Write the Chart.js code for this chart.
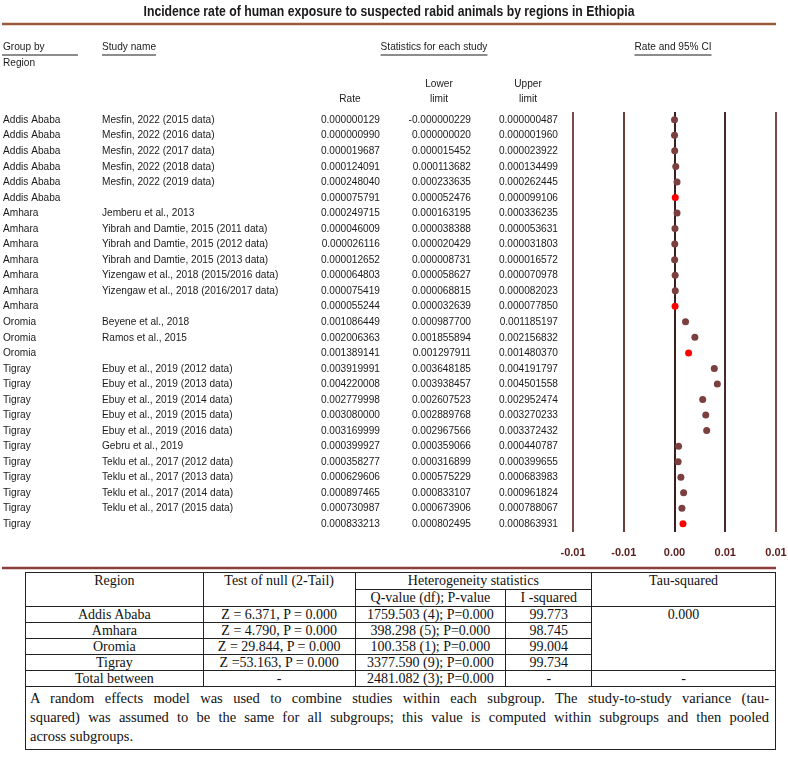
<!DOCTYPE html>
<html>
<head>
<meta charset="utf-8">
<script src="https://cdn.jsdelivr.net/npm/chart.js@4.4.1/dist/chart.umd.min.js"></script>
<style>
  body { margin: 0; background: #fff; width: 788px; height: 759px; position: relative; overflow: hidden; }
  #wrap { position: absolute; left: 0; top: 0; width: 788px; height: 570px; }
  table { position: absolute; left: 25px; top: 572px; width: 751px; border-collapse: collapse;
          font-family: "Liberation Serif", "Times New Roman", serif; font-size: 14px; color: #111; }
  td { border: 1px solid #222; text-align: center; padding: 0; height: 15px; line-height: 15px; vertical-align: top; }
  td.h { height: 16px; line-height: 16px; }
  td.note { text-align: justify; padding: 2px 6px 3px 4px; font-size: 14.5px; line-height: 19px; height: auto; }
  .jl { text-align: justify; text-align-last: justify; }
</style>
</head>
<body>
<div id="wrap"><canvas id="forest"></canvas></div>
<table>
  <colgroup><col style="width:178px"><col style="width:152px"><col style="width:151px"><col style="width:86px"><col style="width:184px"></colgroup>
  <tr><td class="h" rowspan="2">Region</td><td class="h" rowspan="2">Test of null (2-Tail)</td><td class="h" colspan="2">Heterogeneity statistics</td><td class="h" rowspan="2">Tau-squared</td></tr>
  <tr><td class="h">Q-value (df); P-value</td><td class="h">I -squared</td></tr>
  <tr><td>Addis Ababa</td><td>Z = 6.371, P = 0.000</td><td>1759.503 (4); P=0.000</td><td>99.773</td><td rowspan="4">0.000</td></tr>
  <tr><td>Amhara</td><td>Z = 4.790, P = 0.000</td><td>398.298 (5); P=0.000</td><td>98.745</td></tr>
  <tr><td>Oromia</td><td>Z = 29.844, P = 0.000</td><td>100.358 (1); P=0.000</td><td>99.004</td></tr>
  <tr><td>Tigray</td><td>Z =53.163, P = 0.000</td><td>3377.590 (9); P=0.000</td><td>99.734</td></tr>
  <tr><td>Total between</td><td>-</td><td>2481.082 (3); P=0.000</td><td>-</td><td>-</td></tr>
  <tr><td class="note" colspan="5">
    <div class="jl">A random effects model was used to combine studies within each subgroup. The study-to-study variance (tau-</div>
    <div class="jl">squared) was assumed to be the same for all subgroups; this value is computed within subgroups and then pooled</div>
    <div>across subgroups.</div>
  </td></tr>
</table>
<script>
  const groups = [
    "Addis Ababa", "Addis Ababa", "Addis Ababa", "Addis Ababa", "Addis Ababa", "Addis Ababa",
    "Amhara", "Amhara", "Amhara", "Amhara", "Amhara", "Amhara", "Amhara",
    "Oromia", "Oromia", "Oromia",
    "Tigray", "Tigray", "Tigray", "Tigray", "Tigray", "Tigray", "Tigray", "Tigray", "Tigray", "Tigray", "Tigray"
  ];
  // empty study name = subgroup summary row (red dot)
  const studies = [
    "Mesfin, 2022 (2015 data)", "Mesfin, 2022 (2016 data)", "Mesfin, 2022 (2017 data)",
    "Mesfin, 2022 (2018 data)", "Mesfin, 2022 (2019 data)", "",
    "Jemberu et al., 2013", "Yibrah and Damtie, 2015 (2011 data)", "Yibrah and Damtie, 2015 (2012 data)",
    "Yibrah and Damtie, 2015 (2013 data)", "Yizengaw et al., 2018 (2015/2016 data)", "Yizengaw et al., 2018 (2016/2017 data)", "",
    "Beyene et al., 2018", "Ramos et al., 2015", "",
    "Ebuy et al., 2019 (2012 data)", "Ebuy et al., 2019 (2013 data)", "Ebuy et al., 2019 (2014 data)",
    "Ebuy et al., 2019 (2015 data)", "Ebuy et al., 2019 (2016 data)", "Gebru et al., 2019",
    "Teklu et al., 2017 (2012 data)", "Teklu et al., 2017 (2013 data)", "Teklu et al., 2017 (2014 data)",
    "Teklu et al., 2017 (2015 data)", ""
  ];
  const rates = [
    0.000000129, 0.000000990, 0.000019687, 0.000124091, 0.000248040, 0.000075791,
    0.000249715, 0.000046009, 0.000026116, 0.000012652, 0.000064803, 0.000075419, 0.000055244,
    0.001086449, 0.002006363, 0.001389141,
    0.003919991, 0.004220008, 0.002779998, 0.003080000, 0.003169999, 0.000399927,
    0.000358277, 0.000629606, 0.000897465, 0.000730987, 0.000833213
  ];
  const lowers = [
    -0.000000229, 0.000000020, 0.000015452, 0.000113682, 0.000233635, 0.000052476,
    0.000163195, 0.000038388, 0.000020429, 0.000008731, 0.000058627, 0.000068815, 0.000032639,
    0.000987700, 0.001855894, 0.001297911,
    0.003648185, 0.003938457, 0.002607523, 0.002889768, 0.002967566, 0.000359066,
    0.000316899, 0.000575229, 0.000833107, 0.000673906, 0.000802495
  ];
  const uppers = [
    0.000000487, 0.000001960, 0.000023922, 0.000134499, 0.000262445, 0.000099106,
    0.000336235, 0.000053631, 0.000031803, 0.000016572, 0.000070978, 0.000082023, 0.000077850,
    0.001185197, 0.002156832, 0.001480370,
    0.004191797, 0.004501558, 0.002952474, 0.003270233, 0.003372432, 0.000440787,
    0.000399655, 0.000683983, 0.000961824, 0.000788067, 0.000863931
  ];
  const tickValues = [-0.01, -0.005, 0, 0.005, 0.01];
  const tickLabels = ["-0.01", "-0.01", "0.00", "0.01", "0.01"];

  const FONT = '"Liberation Sans", Arial, sans-serif';
  const SQUEEZE = 0.88; // the original uses a narrow face

  // left-hand columns, headings, title and rules
  const forestText = {
    id: "forestText",
    afterDraw(chart) {
      const ctx = chart.ctx;
      const y = chart.scales.y;
      const put = (s, x, py, align, sx = SQUEEZE) => {
        ctx.save();
        ctx.translate(x, py);
        ctx.scale(sx, 1);
        ctx.textAlign = align;
        ctx.fillText(s, 0, 0);
        ctx.restore();
        return ctx.measureText(s).width * sx;
      };
      ctx.save();
      ctx.fillStyle = "#1a1a1a";
      ctx.textBaseline = "middle";

      ctx.font = "bold 15px " + FONT;
      const title = "Incidence rate of human exposure to suspected rabid animals by regions in Ethiopia";
      put(title, 389, 12, "center", 491 / ctx.measureText(title).width);

      ctx.strokeStyle = "#9a5b3c";
      ctx.lineWidth = 2.5;
      ctx.beginPath(); ctx.moveTo(2, 24); ctx.lineTo(776, 24); ctx.stroke();
      ctx.strokeStyle = "#8c3e3a";
      ctx.beginPath(); ctx.moveTo(2, 568); ctx.lineTo(776, 568); ctx.stroke();

      ctx.font = "11.5px " + FONT;
      ctx.strokeStyle = "#1a1a1a";
      ctx.lineWidth = 1;
      const head = (s, x, py, align, ulFrom, ulTo) => {
        const w = put(s, x, py, align);
        const x0 = ulFrom !== undefined ? ulFrom : (align === "center" ? x - w / 2 : x);
        const x1 = ulTo !== undefined ? ulTo : x0 + w;
        ctx.beginPath(); ctx.moveTo(x0, py + 8); ctx.lineTo(x1, py + 8); ctx.stroke();
      };
      head("Group by", 3, 47, "left", 2, 78);
      head("Study name", 102, 47, "left");
      head("Statistics for each study", 434, 47, "center");
      head("Rate and 95% CI", 673, 47, "center");
      put("Region", 3, 63, "left");
      put("Lower", 439, 84, "center");
      put("limit", 439, 99, "center");
      put("Upper", 528, 84, "center");
      put("limit", 528, 99, "center");
      put("Rate", 350, 99, "center");

      groups.forEach((g, i) => {
        const py = y.getPixelForValue(i);
        put(g, 3, py, "left");
        put(studies[i], 102, py, "left");
        put(rates[i].toFixed(9), 380, py, "right");
        put(lowers[i].toFixed(9), 471, py, "right");
        put(uppers[i].toFixed(9), 558, py, "right");
      });
      ctx.restore();
    }
  };

  const dotColors = studies.map(s => s === "" ? "#ff0000" : "#7b3f3f");

  new Chart(document.getElementById("forest").getContext("2d"), {
    type: "scatter",
    data: {
      datasets: [{
        label: "Rate",
        data: rates.map((r, i) => ({ x: r, y: i })),
        pointRadius: 3.5,
        pointHoverRadius: 3.5,
        pointBackgroundColor: dotColors,
        pointBorderColor: dotColors,
        pointBorderWidth: 0
      }]
    },
    options: {
      responsive: true,
      maintainAspectRatio: false,
      animation: false,
      layout: { padding: { left: 573, right: 12, top: 112, bottom: 0 } },
      plugins: { legend: { display: false }, tooltip: { enabled: false } },
      scales: {
        x: {
          type: "linear",
          min: -0.01,
          max: 0.01,
          afterBuildTicks: (scale) => { scale.ticks = tickValues.map(v => ({ value: v })); },
          afterFit: (scale) => { scale.paddingLeft = 0; scale.paddingRight = 0; scale.height = 38.4; },
          ticks: {
            callback: (v, i) => tickLabels[i],
            font: { family: FONT, size: 11, weight: "bold" },
            color: "#5a1c1c",
            padding: 15,
            maxRotation: 0
          },
          grid: {
            color: ["#7b4a4a", "#6a3c3c", "#3a1e1e", "#4a2828", "#7b4a4a"],
            lineWidth: 2,
            drawTicks: false
          },
          border: { display: false }
        },
        y: {
          type: "linear",
          min: -0.5,
          max: 26.5,
          reverse: true,
          display: false
        }
      }
    },
    plugins: [forestText]
  });
</script>
</body>
</html>
